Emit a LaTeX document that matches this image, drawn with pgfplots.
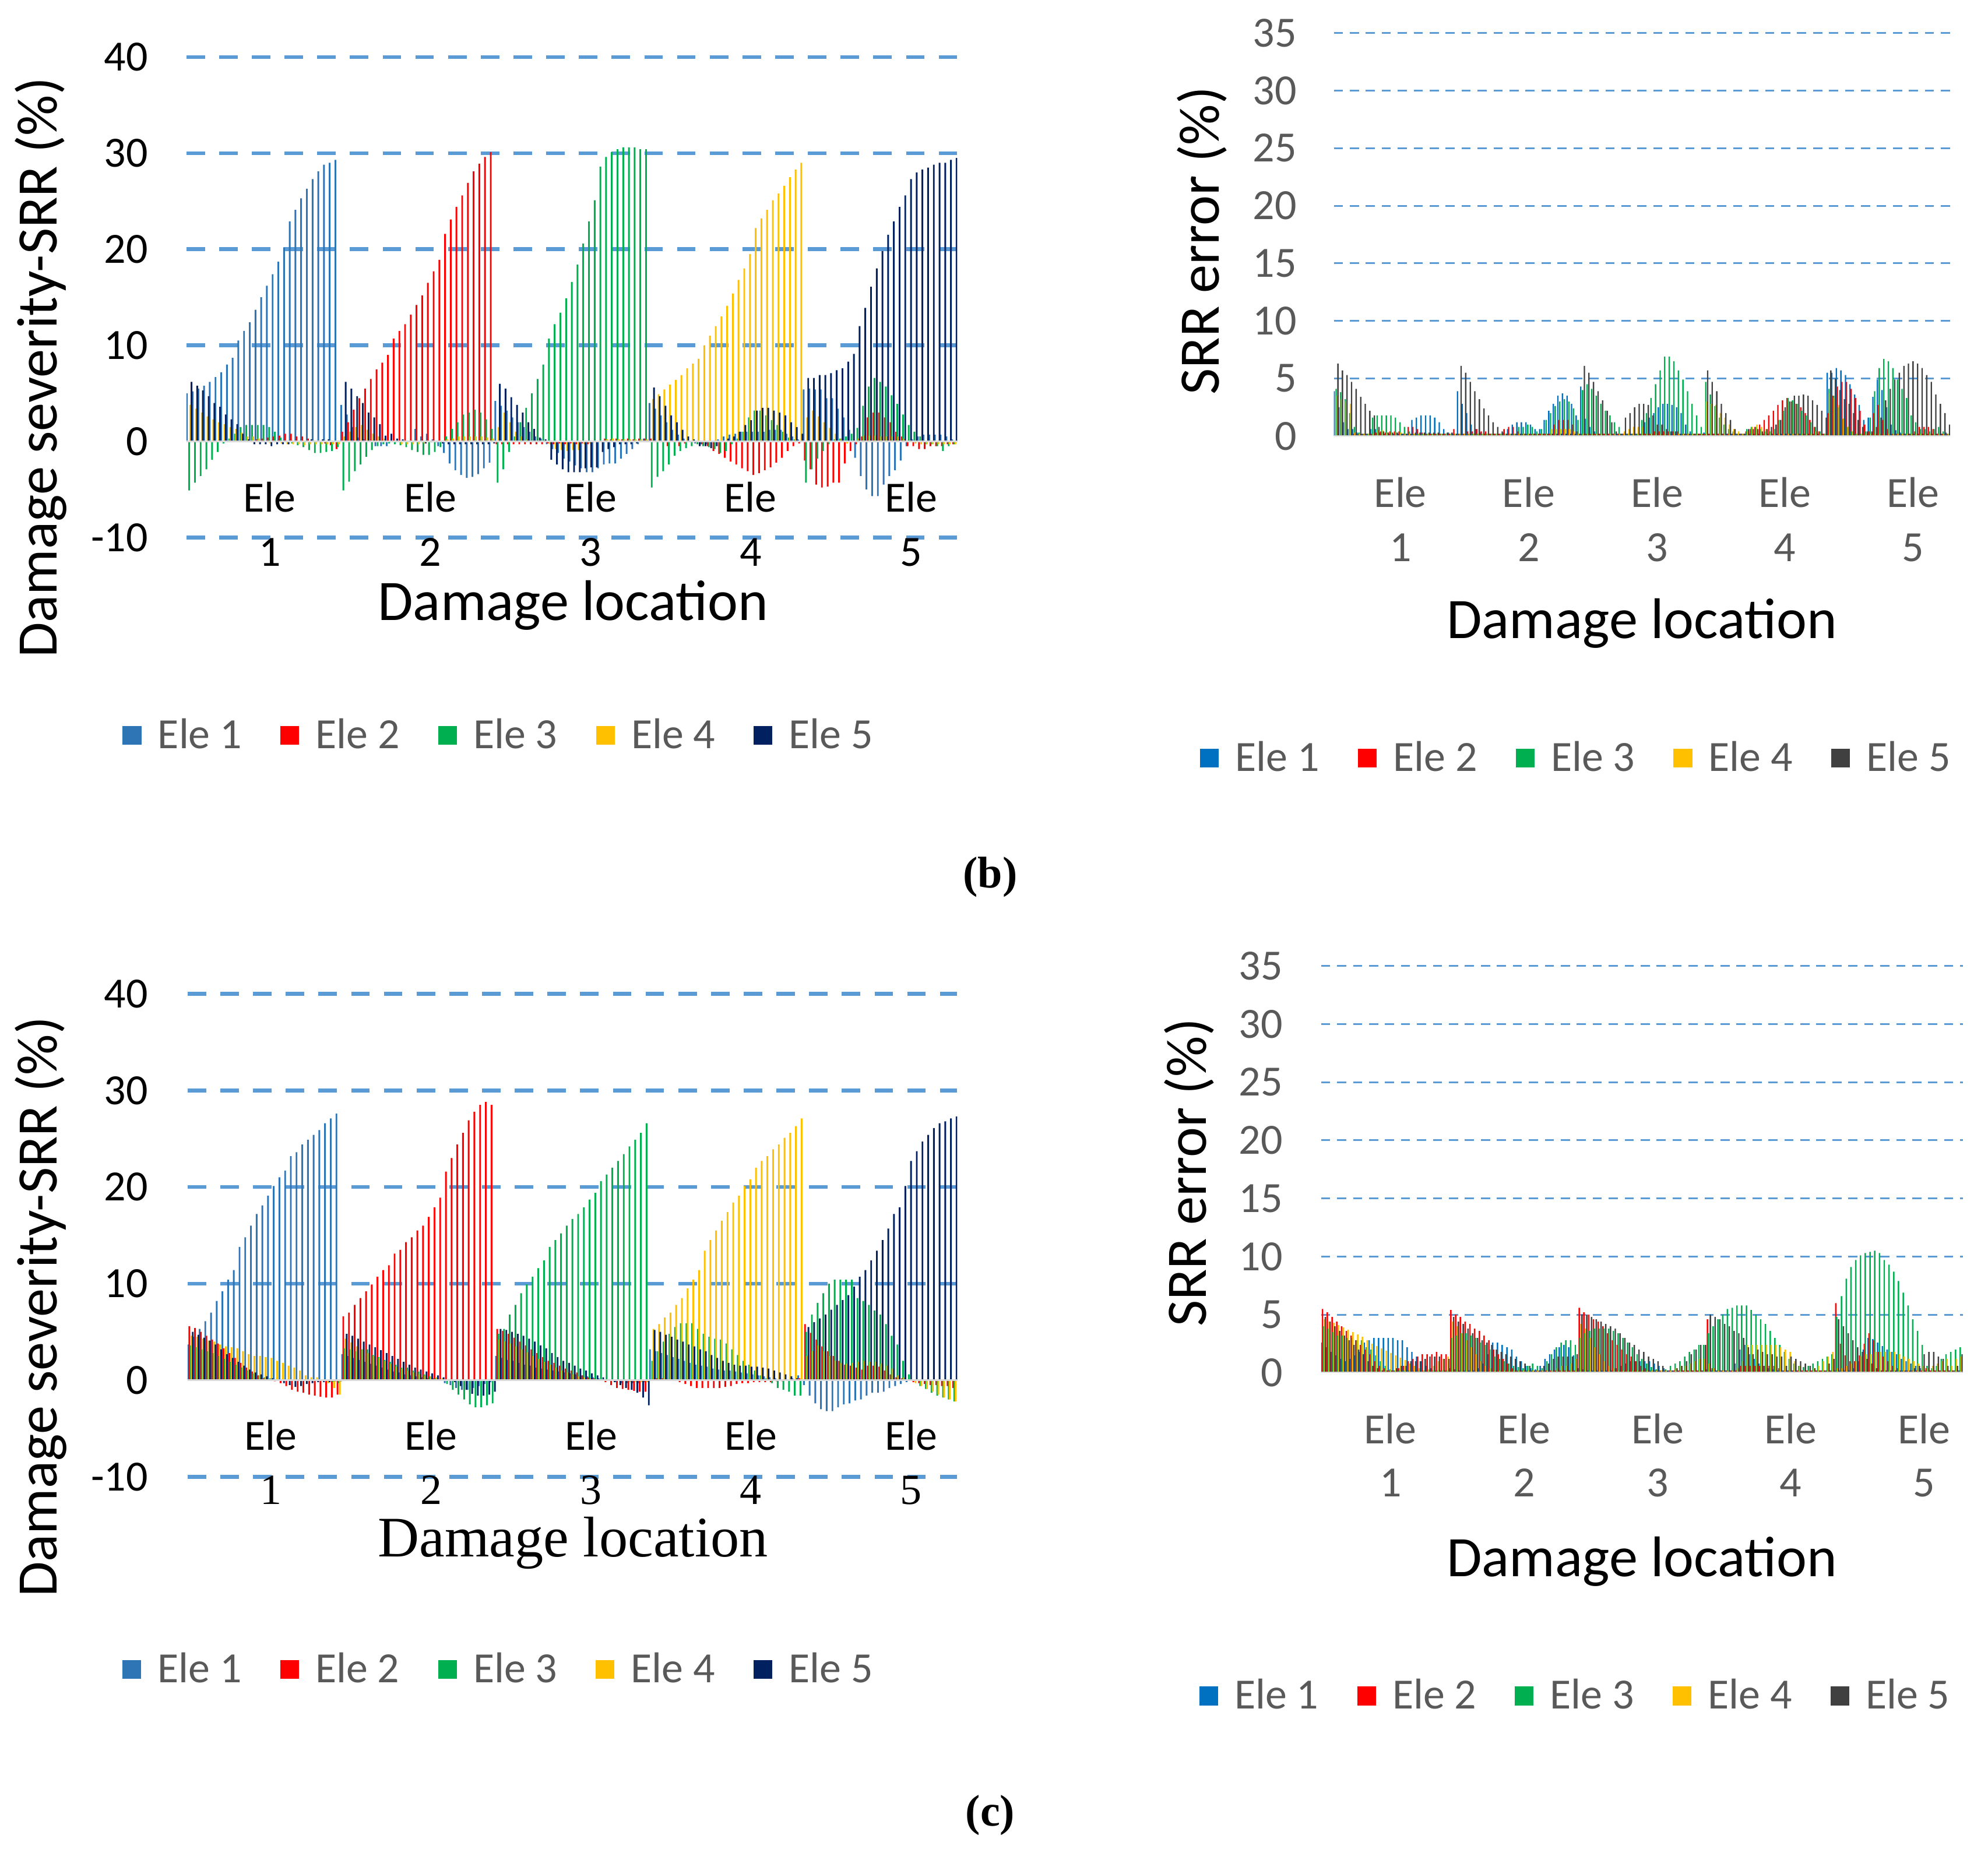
\documentclass[border=0pt]{standalone}
\usepackage{fontspec}
\setmainfont{Carlito}
\newfontfamily\tnr{Liberation Serif}
\usepackage{pgfplots}
\usepackage{pgfplotstable}
\pgfplotsset{compat=1.18}

\definecolor{c1}{HTML}{2E75B6}
\definecolor{c2}{HTML}{FF0000}
\definecolor{c3}{HTML}{00B050}
\definecolor{c4}{HTML}{FFC000}
\definecolor{c5}{HTML}{002060}
\definecolor{d1}{HTML}{0070C0}
\definecolor{d5}{HTML}{404040}
\definecolor{gridc}{HTML}{5B9BD5}
\definecolor{zeroc}{HTML}{D9D9D9}
\definecolor{legc}{HTML}{595959}

\newcommand\tickfont{\fontsize{17}{21}\selectfont}
\newcommand\labfont{\fontsize{22.6}{27}\selectfont}
\newcommand\bfont{\fontsize{17.5}{21}\selectfont\tnr\bfseries}

% ---------------- (b) left: identified severity ----------------
\pgfplotstableread[row sep=\\]{y\\
5.0\\5.2\\5.5\\5.8\\6.2\\6.7\\7.2\\8.0\\8.7\\10.5\\11.5\\12.4\\13.7\\15.0\\16.2\\17.4\\18.7\\20.2\\22.9\\24.1\\25.3\\26.3\\27.3\\28.1\\28.8\\29.0\\29.3\\
3.8\\2.8\\1.5\\0.4\\0.2\\0\\-0.5\\-0.5\\-0.5\\0\\0\\0\\0\\1.3\\0.5\\0.8\\0.2\\-0.5\\-1.2\\-2.3\\-3.0\\-3.5\\-3.8\\-3.7\\-3.4\\-2.8\\-2.2\\
4.2\\3.7\\3.2\\2.5\\2.0\\1.5\\1.0\\0.5\\0.3\\-0.3\\-0.8\\-1.2\\-1.8\\-2.1\\-2.5\\-2.8\\-3.2\\-3.2\\-2.8\\-2.4\\-2.3\\-2.3\\-1.8\\-1.3\\-0.8\\-0.3\\0.3\\
4.0\\3.4\\2.7\\2.0\\1.2\\0.7\\0.3\\0\\-0.2\\-0.3\\-0.3\\0\\0.2\\0.5\\0.7\\0.8\\1.0\\1.0\\1.0\\1.0\\1.0\\1.2\\1.2\\1.2\\0.8\\0.5\\0.2\\
5.4\\5.5\\5.4\\5.4\\4.5\\4.5\\3.4\\2.5\\1.2\\-1.7\\-3.6\\-5.0\\-5.7\\-5.7\\-4.5\\-3.6\\-3.0\\-2.0\\-0.5\\0.2\\0.5\\0.7\\0.7\\0.7\\0.7\\0.5\\0.2\\
}\TLa
\pgfplotstableread[row sep=\\]{y\\
0\\0\\0\\0\\0\\0\\0\\0\\0\\0\\0\\0\\0.2\\0.3\\0.4\\0.5\\0.6\\0.8\\0.8\\0.5\\0.5\\0.3\\0.1\\0\\-0.2\\-0.4\\-0.8\\
1.0\\2.0\\3.3\\4.5\\5.5\\6.5\\7.5\\8.2\\9.0\\10.7\\11.5\\12.2\\13.2\\14.2\\15.2\\16.5\\17.7\\18.9\\21.6\\23.1\\24.4\\25.6\\26.9\\28.1\\28.9\\29.6\\30.1\\
-0.3\\-0.3\\-0.3\\-0.3\\-0.3\\-0.3\\-0.3\\-0.3\\-0.3\\-0.2\\-0.3\\-0.2\\-0.3\\-0.2\\-0.3\\-0.2\\-0.3\\-0.1\\0\\0.3\\0.2\\0.3\\0.2\\0.3\\0.2\\0.3\\0.3\\
0.3\\0\\0\\-0.5\\0\\-0.5\\-0.2\\0\\0\\-0.3\\-0.5\\-1.0\\-1.3\\-1.7\\-2.1\\-2.4\\-2.8\\-3.1\\-3.5\\-3.3\\-3.0\\-2.7\\-2.2\\-1.7\\-1.0\\-0.5\\-0.2\\
-2.0\\-2.9\\-4.5\\-4.8\\-4.7\\-4.3\\-4.3\\-2.3\\-1.0\\-0.3\\0.5\\2.5\\3.0\\3.0\\2.5\\2.0\\1.0\\0.5\\-0.5\\-0.5\\-0.8\\-0.8\\-0.5\\-0.5\\-0.5\\-0.3\\-0.3\\
}\TLb
\pgfplotstableread[row sep=\\]{y\\
-5.1\\-4.3\\-3.6\\-2.9\\-1.9\\-1.1\\-0.2\\0.3\\0.8\\1.5\\1.7\\1.7\\1.7\\1.7\\1.5\\1.0\\0.4\\0\\-0.2\\-0.4\\-0.6\\-0.9\\-1.2\\-1.2\\-1.1\\-1.0\\-0.6\\
-5.1\\-4.2\\-3.1\\-2.4\\-1.6\\-0.9\\-0.5\\-0.3\\-0.2\\-0.3\\-0.4\\-0.6\\-0.9\\-1.1\\-1.4\\-1.4\\-1.1\\-0.6\\0.5\\1.3\\2.0\\2.8\\3.0\\3.3\\3.0\\2.3\\1.3\\
-4.3\\-2.9\\-1.1\\0.5\\2.0\\3.5\\5.0\\6.5\\8.0\\10.7\\12.2\\13.4\\14.9\\16.6\\18.4\\20.6\\22.9\\25.1\\28.6\\29.6\\30.1\\30.4\\30.6\\30.6\\30.6\\30.4\\30.4\\
-4.8\\-3.7\\-3.1\\-2.4\\-1.5\\-1.0\\-0.7\\-0.5\\-0.3\\-0.5\\-0.6\\-0.8\\-1.2\\-1.0\\-0.3\\0.3\\1.0\\2.5\\3.2\\3.2\\2.7\\2.2\\1.7\\1.0\\0.4\\0.2\\0\\
-4.3\\-2.9\\-1.8\\-1.0\\-0.3\\0.2\\0.3\\0.5\\0.8\\1.4\\3.7\\5.7\\6.6\\6.2\\5.7\\4.8\\3.9\\2.8\\1.7\\1.0\\0.5\\-0.3\\-0.3\\-0.5\\-1.0\\-0.5\\-0.3\\
}\TLc
\pgfplotstableread[row sep=\\]{y\\
3.8\\3.4\\3.0\\2.6\\2.3\\2.0\\1.8\\1.5\\1.3\\0.9\\0.5\\0.5\\0.3\\0\\-0.2\\0\\-0.2\\-0.3\\-0.3\\-0.3\\-0.4\\-0.3\\-0.3\\-0.3\\-0.3\\-0.3\\-0.3\\
0.5\\1.0\\1.5\\1.7\\1.2\\0.8\\0.5\\0.3\\0.1\\0\\-0.3\\-0.3\\-0.3\\-0.3\\-0.2\\0\\0\\0\\0.2\\0.3\\0.5\\0.5\\0.5\\0.5\\0.5\\0.4\\0.3\\
1.5\\3.0\\2.0\\1.0\\0.5\\0.2\\0\\0\\0\\-0.3\\-0.8\\-0.9\\-1.0\\-0.9\\-0.9\\-0.3\\-0.2\\0\\0\\0.2\\0.3\\0.2\\0.2\\0.2\\0.2\\0.2\\0.2\\
4.4\\4.9\\5.4\\5.9\\6.4\\6.9\\7.6\\8.1\\8.6\\10.0\\11.0\\12.0\\13.0\\14.1\\15.4\\16.8\\18.0\\19.5\\22.2\\23.2\\24.1\\25.1\\25.8\\26.6\\27.5\\28.3\\29.0\\
2.5\\3.2\\2.6\\2.0\\1.4\\0.8\\0.3\\-0.2\\0\\0.3\\0.6\\0.6\\0.6\\0.5\\0.5\\0.5\\0.5\\0.3\\0\\-0.2\\-0.3\\-0.3\\-0.3\\-0.3\\-0.3\\-0.3\\-0.3\\
}\TLd
\pgfplotstableread[row sep=\\]{y\\
6.2\\5.8\\5.3\\4.7\\4.0\\3.6\\2.8\\2.3\\1.8\\0.8\\0.2\\-0.3\\-0.3\\-0.3\\-0.5\\-0.3\\-0.3\\-0.3\\0\\0\\0\\0.2\\0\\0.2\\0.2\\0\\0\\
6.2\\5.5\\4.7\\4.0\\3.0\\2.5\\1.8\\0.6\\0.8\\0.3\\0.2\\0\\0\\0\\-0.2\\-0.1\\-0.1\\-0.2\\-0.3\\-0.3\\-0.3\\-0.3\\-0.3\\-0.3\\-0.3\\-0.3\\-0.2\\
6.0\\5.5\\4.6\\3.8\\3.0\\2.0\\1.3\\0.4\\0.2\\-1.9\\-2.4\\-2.9\\-3.2\\-3.2\\-3.2\\-2.8\\-2.7\\-2.7\\-1.1\\-0.8\\-0.6\\-0.3\\-0.3\\-0.3\\-0.2\\0\\0\\
5.6\\4.7\\3.7\\2.7\\2.0\\1.2\\0.5\\0.2\\-0.5\\-0.5\\-0.7\\-0.5\\0\\0.3\\0.5\\1.0\\1.7\\2.2\\3.2\\3.5\\3.5\\3.2\\3.0\\2.7\\2.0\\1.5\\0.8\\
6.6\\6.6\\6.9\\6.9\\7.1\\7.4\\7.6\\8.3\\9.1\\12.0\\13.9\\16.1\\18.0\\19.8\\21.5\\22.9\\24.4\\25.6\\27.3\\28.0\\28.3\\28.5\\28.8\\29.0\\29.0\\29.3\\29.5\\
}\TLe

% ---------------- (b) right: SRR error ----------------
\pgfplotstableread[row sep=\\]{y\\
3.9\\2.5\\1.2\\0.6\\0.6\\0.3\\0.2\\0.2\\0.6\\0.6\\0.3\\0.2\\0.2\\0.2\\0.2\\0.2\\0.2\\1.4\\1.6\\1.8\\1.8\\1.8\\1.6\\1.2\\0.6\\0.3\\0.2\\
3.9\\2.8\\2.0\\1.0\\0.6\\0.3\\0.2\\0.2\\0.2\\0.2\\0.3\\0.6\\1.0\\1.2\\1.2\\1.2\\1.0\\0.6\\0.6\\1.4\\2.2\\2.8\\3.5\\3.7\\3.5\\2.8\\1.8\\
4.3\\1.5\\0.8\\0.4\\0.2\\0.2\\0.2\\0.2\\0.2\\0.2\\0.2\\0.2\\0.2\\0.2\\1.2\\1.6\\2.0\\2.5\\2.8\\2.8\\2.7\\2.5\\2.0\\1.0\\0.4\\0.2\\0.2\\
0.3\\0.2\\0.2\\0.2\\0.2\\0.2\\0.2\\0.2\\0.2\\0.2\\0.2\\0.2\\0.2\\0.2\\0.2\\0.2\\0.2\\0.2\\0.2\\0.2\\0.2\\0.2\\0.2\\0.2\\0.2\\0.2\\0.2\\
5.5\\5.5\\5.9\\5.7\\5.3\\4.5\\3.6\\2.7\\1.4\\1.6\\3.4\\4.9\\4.0\\2.5\\1.0\\0.5\\0.3\\0.2\\0.2\\0.2\\0.2\\0.2\\0.2\\0.2\\0.2\\0.2\\0.3\\
}\TRa
\pgfplotstableread[row sep=\\]{y\\
0\\0\\0\\0\\0.2\\0.2\\0.2\\0.2\\0.2\\0.3\\0.4\\0.3\\0.4\\0.4\\0.4\\0.2\\0.8\\0.8\\0.6\\0.3\\0.2\\0.2\\0.2\\0.2\\0.2\\0.2\\0.6\\
0.2\\0.2\\0.4\\0.4\\0.6\\0.4\\0.4\\0.2\\0.2\\0.2\\0.6\\0.8\\0.8\\0.4\\0.2\\0.2\\0.2\\0.2\\0.2\\0.2\\0.2\\1.0\\1.4\\1.4\\1.4\\1.0\\0.4\\
0.2\\0.2\\0.2\\0.2\\0.2\\0.2\\0.2\\0.2\\0.2\\0.2\\0.2\\0.2\\0.2\\0.2\\0.2\\0.2\\0.4\\0.4\\0.4\\0.4\\0.4\\0.4\\0.2\\0.2\\0.2\\0.2\\0.2\\
0.2\\0.2\\0.2\\0.2\\0.2\\0.2\\0.2\\0.2\\0.2\\0.4\\0.6\\0.8\\1.0\\1.4\\1.8\\2.2\\2.7\\3.1\\3.3\\3.0\\2.8\\2.5\\2.0\\1.4\\0.8\\0.4\\0.2\\
2.0\\3.5\\4.3\\4.7\\4.7\\4.1\\3.3\\2.2\\1.0\\0.4\\2.0\\2.7\\1.4\\0.6\\0.2\\0.2\\0.2\\0.2\\0.2\\0.4\\0.8\\0.8\\0.8\\0.6\\0.2\\0.2\\0.2\\
}\TRb
\pgfplotstableread[row sep=\\]{y\\
4.1\\3.8\\3.2\\2.0\\0.8\\0.3\\0.2\\0.2\\1.6\\1.8\\1.8\\1.8\\1.8\\1.6\\1.2\\0.8\\0.4\\0.2\\0.2\\0.2\\0.2\\0.2\\0.2\\0.2\\0.2\\0.2\\0.2\\
0.2\\0.2\\0.2\\0.2\\0.2\\0.2\\0.2\\0.2\\0.2\\0.2\\0.2\\0.2\\0.2\\0.8\\0.8\\1.0\\0.8\\0.4\\0.6\\1.4\\2.0\\2.6\\3.0\\3.2\\3.0\\2.4\\1.4\\
4.0\\4.5\\4.1\\3.5\\2.8\\2.2\\1.8\\1.2\\0.8\\0.2\\0.2\\0.2\\0.2\\1.4\\2.0\\3.3\\4.5\\5.7\\6.9\\6.9\\6.5\\5.7\\4.9\\3.9\\2.8\\1.8\\0.8\\
4.7\\3.6\\2.6\\1.6\\1.0\\0.6\\0.4\\0.2\\0.2\\0.6\\0.8\\0.8\\0.6\\0.4\\0.4\\0.6\\1.4\\2.2\\3.3\\3.1\\2.8\\2.2\\1.8\\1.2\\0.8\\0.4\\0.2\\
4.1\\3.5\\2.5\\1.5\\0.8\\0.4\\0.2\\0.2\\0.4\\1.6\\3.9\\5.9\\6.7\\6.5\\5.9\\4.9\\4.1\\3.3\\1.8\\1.2\\0.6\\0.6\\0.4\\0.6\\0.8\\0.4\\0.2\\
}\TRc
\pgfplotstableread[row sep=\\]{y\\
3.5\\3.2\\3.0\\2.8\\0.3\\0.2\\0.2\\0.2\\0.2\\0.5\\0.5\\0.3\\0.3\\0.3\\0.3\\0.2\\0.2\\0.2\\0.2\\0.2\\0.2\\0.2\\0.2\\0.2\\0.2\\0.2\\0.2\\
0.2\\0.2\\0.2\\0.2\\0.2\\0.2\\0.2\\0.2\\0.2\\0.2\\0.2\\0.2\\0.2\\0.2\\0.2\\0.2\\0.2\\0.2\\0.2\\0.2\\0.6\\0.6\\0.6\\0.6\\0.6\\0.4\\0.2\\
0.2\\0.2\\0.2\\0.2\\0.2\\0.2\\0.2\\0.2\\0.2\\0.4\\0.6\\0.8\\0.8\\0.8\\0.2\\0.2\\0.2\\0.2\\0.2\\0.2\\0.2\\0.2\\0.2\\0.2\\0.2\\0.2\\0.2\\
3.0\\2.8\\2.7\\2.0\\1.6\\1.0\\0.6\\0.4\\0.2\\0.4\\0.8\\1.0\\0.8\\0.6\\0.4\\0.2\\0.2\\0.2\\0.2\\0.2\\0.2\\0.2\\0.2\\0.2\\0.4\\0.2\\0.2\\
3.7\\3.3\\2.7\\1.5\\0.8\\0.4\\0.2\\0.2\\0.2\\0.2\\0.2\\0.2\\0.2\\0.2\\0.2\\0.2\\0.2\\0.2\\0.2\\0.2\\0.2\\0.2\\0.2\\0.2\\0.2\\0.2\\0.2\\
}\TRd
\pgfplotstableread[row sep=\\]{y\\
6.3\\5.7\\5.3\\4.7\\4.1\\3.4\\2.8\\2.2\\1.8\\0.8\\0.4\\0.3\\0.3\\0.3\\0.2\\0.2\\0.2\\0.3\\0.3\\0.3\\0.3\\0.3\\0.3\\0.2\\0.3\\0.3\\0.2\\
6.1\\5.5\\4.7\\3.9\\3.2\\2.4\\1.8\\1.2\\0.8\\0.4\\0.2\\0.2\\0.2\\0.2\\0.2\\0.2\\0.2\\0.2\\0.2\\0.2\\0.2\\0.2\\0.2\\0.2\\0.2\\0.2\\0.2\\
6.1\\5.5\\4.7\\3.9\\3.1\\2.2\\1.2\\0.4\\0.2\\1.6\\2.0\\2.5\\2.8\\2.8\\2.7\\1.8\\1.0\\1.0\\0.6\\0.4\\0.4\\0.2\\0.2\\0.2\\0.2\\0.2\\0.2\\
5.7\\4.7\\3.9\\2.8\\2.0\\1.4\\0.6\\0.2\\0.2\\0.6\\0.6\\0.6\\0.4\\0.6\\0.8\\1.0\\1.4\\2.5\\3.0\\3.5\\3.5\\3.6\\3.5\\3.1\\2.7\\2.2\\1.6\\
5.7\\5.0\\4.0\\3.2\\2.8\\2.0\\1.4\\0.8\\0.4\\0.4\\0.8\\1.6\\3.1\\4.1\\4.9\\5.5\\6.1\\6.3\\6.5\\6.3\\5.9\\5.3\\4.7\\3.6\\2.8\\2.0\\1.0\\
}\TRe

% ---------------- (c) left: identified severity ----------------
\pgfplotstableread[row sep=\\]{y\\
3.7\\4.5\\5.3\\6.1\\7.0\\8.2\\9.2\\10.4\\11.4\\13.8\\14.8\\16.0\\17.2\\18.1\\19.1\\20.1\\21.0\\21.7\\23.2\\23.6\\24.4\\24.9\\25.4\\25.9\\26.6\\27.1\\27.6\\
2.7\\2.5\\2.3\\2.1\\1.9\\1.7\\1.5\\1.3\\1.1\\0.9\\0.8\\0.6\\0.5\\0.4\\0.3\\0.2\\0.2\\0.1\\-0.3\\-0.5\\-0.8\\-1.0\\-1.0\\-0.8\\-0.6\\-0.4\\-0.2\\
2.5\\2.3\\2.1\\2.0\\1.8\\1.6\\1.5\\1.3\\1.2\\1.1\\1.0\\0.9\\0.8\\0.7\\0.6\\0.5\\0.4\\0.3\\0.2\\0.1\\0\\-0.2\\-0.3\\-0.3\\-0.3\\-0.3\\-0.2\\
3.2\\3.0\\2.8\\2.6\\2.4\\2.2\\2.0\\1.8\\1.6\\1.5\\1.4\\1.2\\1.1\\1.0\\1.0\\0.9\\0.8\\0.7\\0.6\\0.5\\0.4\\0.3\\0.2\\0.1\\0\\0.2\\0.5\\
-0.5\\-1.6\\-2.4\\-3.0\\-3.2\\-3.2\\-2.8\\-2.5\\-2.4\\-2.1\\-2.0\\-1.6\\-1.3\\-1.3\\-1.2\\-0.8\\-0.6\\-0.4\\-0.2\\0\\0\\0\\0\\0\\0\\0\\0\\
}\BLa
\pgfplotstableread[row sep=\\]{y\\
5.6\\5.4\\5.0\\4.6\\4.2\\3.8\\3.3\\2.8\\2.3\\1.8\\1.3\\0.9\\0.5\\0.2\\0\\-0.1\\-0.3\\-0.6\\-1.0\\-1.2\\-1.3\\-1.5\\-1.6\\-1.7\\-1.8\\-1.8\\-1.5\\
6.6\\7.0\\7.8\\8.5\\9.2\\9.9\\10.7\\11.4\\11.9\\13.1\\13.5\\14.3\\14.8\\15.5\\16.0\\16.9\\17.9\\18.9\\21.6\\23.0\\24.4\\25.6\\26.9\\27.8\\28.5\\28.8\\28.5\\
5.3\\5.1\\4.8\\4.4\\4.0\\3.6\\3.2\\2.8\\2.4\\2.0\\1.8\\1.5\\1.2\\1.0\\0.8\\0.5\\0.3\\0.2\\0\\-0.2\\-0.5\\-0.8\\-0.9\\-1.0\\-1.1\\-1.2\\-1.2\\
0\\0.2\\0.2\\0.1\\0\\-0.2\\-0.4\\-0.6\\-0.8\\-0.8\\-0.8\\-0.8\\-0.8\\-0.7\\-0.6\\-0.4\\-0.3\\-0.3\\-0.2\\-0.2\\-0.2\\-0.2\\-0.1\\-0.1\\0\\0.1\\0.2\\
5.8\\4.9\\4.2\\3.5\\3.0\\2.5\\2.0\\1.6\\1.5\\1.3\\1.1\\1.5\\1.5\\1.4\\1.0\\0.6\\0.3\\0.2\\0\\-0.2\\-0.3\\-0.4\\-0.5\\-0.5\\-0.6\\-0.6\\-0.8\\
}\BLb
\pgfplotstableread[row sep=\\]{y\\
3.6\\3.4\\3.2\\3.0\\2.8\\2.5\\2.2\\1.9\\1.6\\1.3\\1.0\\0.7\\0.5\\0.3\\0.2\\0.1\\0\\0\\0\\0\\0\\0\\0\\0\\0\\-0.2\\-0.3\\
3.3\\3.2\\3.0\\3.2\\3.2\\2.6\\2.4\\2.1\\1.9\\1.6\\1.3\\1.3\\1.0\\0.9\\0.6\\0.4\\0.2\\0\\-0.4\\-1.0\\-1.5\\-2.0\\-2.5\\-2.8\\-2.8\\-2.6\\-2.4\\
4.8\\5.3\\6.8\\7.8\\9.0\\9.9\\10.7\\11.6\\12.4\\13.8\\14.5\\15.2\\16.0\\16.7\\17.2\\17.9\\18.7\\19.4\\20.6\\21.3\\22.0\\22.7\\23.4\\24.2\\24.9\\25.6\\26.6\\
2.0\\3.0\\4.0\\4.8\\5.5\\5.9\\5.9\\5.9\\5.3\\4.8\\4.5\\4.3\\4.2\\3.8\\3.2\\2.6\\2.0\\1.6\\1.0\\0.5\\0.2\\-0.3\\-0.8\\-1.0\\-1.2\\-1.6\\-1.6\\
5.0\\6.8\\8.0\\9.0\\10.0\\10.4\\10.4\\10.4\\10.4\\8.5\\8.2\\7.8\\7.2\\6.8\\5.8\\4.6\\3.7\\2.0\\0.6\\0\\-0.6\\-0.9\\-1.3\\-1.6\\-1.8\\-2.0\\-2.2\\
}\BLc
\pgfplotstableread[row sep=\\]{y\\
4.6\\4.5\\4.3\\4.1\\4.0\\3.7\\3.5\\3.4\\3.3\\3.0\\2.7\\2.5\\2.5\\2.4\\2.3\\2.0\\1.8\\1.5\\1.3\\1.0\\0.5\\0.3\\0.3\\0\\-0.3\\-0.8\\-1.5\\
4.3\\3.9\\3.5\\3.2\\2.8\\2.5\\2.3\\2.0\\1.7\\1.4\\1.2\\1.0\\0.8\\0.6\\0.5\\0.4\\0.3\\0.2\\0.1\\0\\0\\0\\0\\0\\0\\0\\0\\
4.2\\4.0\\3.8\\3.5\\3.2\\2.9\\2.5\\2.2\\1.9\\1.6\\1.3\\1.0\\0.8\\0.6\\0.4\\0.3\\0.2\\0.1\\0\\0\\0\\0\\0\\-0.2\\-0.2\\-0.2\\-0.2\\
5.3\\5.8\\6.5\\7.0\\7.8\\8.5\\9.5\\10.4\\11.4\\13.4\\14.5\\15.5\\16.5\\17.4\\18.4\\19.1\\20.1\\20.8\\22.0\\22.7\\23.2\\23.9\\24.4\\25.1\\25.6\\26.3\\27.1\\
2.5\\3.0\\3.6\\3.0\\2.5\\2.0\\1.8\\1.7\\1.8\\1.9\\2.0\\1.9\\1.9\\1.7\\1.5\\1.2\\0.5\\0.3\\0\\-0.3\\-0.6\\-0.9\\-1.2\\-1.5\\-1.8\\-2.0\\-2.2\\
}\BLd
\pgfplotstableread[row sep=\\]{y\\
5.0\\4.7\\4.4\\4.1\\3.7\\3.2\\2.7\\2.3\\1.9\\1.5\\1.1\\0.8\\0.6\\0.4\\0.2\\0\\-0.3\\-0.5\\-0.7\\-0.6\\-0.4\\-0.3\\-0.2\\-0.2\\-0.2\\-0.1\\-0.1\\
4.8\\4.6\\4.3\\4.0\\3.7\\3.4\\3.1\\2.8\\2.5\\2.2\\1.9\\1.6\\1.3\\1.1\\0.9\\0.7\\0.5\\0.3\\0.1\\-0.2\\-0.6\\-1.0\\-1.4\\-1.6\\-1.6\\-1.5\\-1.2\\
5.3\\5.2\\5.0\\4.8\\4.6\\4.3\\4.0\\3.6\\3.3\\2.8\\2.4\\2.0\\1.8\\1.5\\1.2\\1.0\\0.7\\0.5\\0.3\\0.1\\-0.2\\-0.5\\-0.8\\-1.0\\-1.3\\-1.8\\-2.6\\
5.2\\5.0\\4.7\\4.5\\4.2\\4.0\\3.7\\3.5\\3.2\\3.0\\2.6\\2.3\\2.0\\1.8\\1.6\\1.5\\1.5\\1.4\\1.4\\1.3\\1.2\\1.0\\0.8\\0.6\\0.4\\0.2\\0\\
5.5\\6.0\\6.4\\6.8\\7.3\\7.8\\8.3\\8.8\\9.7\\10.7\\11.4\\12.4\\13.4\\14.5\\15.7\\17.2\\17.9\\20.1\\22.7\\23.7\\24.7\\25.4\\26.1\\26.6\\26.8\\27.1\\27.3\\
}\BLe

% ---------------- (c) right: SRR error ----------------
\pgfplotstableread[row sep=\\]{y\\
2.6\\2.2\\1.8\\1.5\\1.2\\1.0\\1.2\\1.5\\1.8\\2.6\\2.8\\3.0\\3.0\\3.0\\3.0\\3.0\\2.8\\2.8\\2.2\\1.8\\1.4\\1.0\\0.6\\0.4\\0.2\\0.2\\0.2\\
0.4\\0.3\\0.2\\0.2\\0.2\\0.2\\0.4\\0.8\\1.6\\2.6\\2.6\\2.4\\2.2\\2.0\\1.4\\1.0\\0.6\\0.4\\0.3\\0.6\\1.2\\1.6\\2.0\\2.2\\2.4\\2.2\\1.5\\
0.4\\0.3\\0.2\\0.2\\0.2\\0.2\\0.2\\0.2\\0.4\\0.6\\0.8\\1.0\\1.0\\1.0\\1.0\\1.0\\0.8\\0.6\\0.4\\0.2\\0.2\\0.2\\0.2\\0.2\\0.2\\0.2\\0.2\\
0.3\\0.2\\0.2\\0.2\\0.2\\0.2\\0.8\\2.0\\2.4\\1.6\\1.2\\0.8\\0.6\\0.4\\0.3\\0.2\\0.2\\0.2\\0.2\\0.2\\0.2\\0.2\\0.2\\0.2\\0.2\\0.2\\0.2\\
0.2\\0.2\\0.2\\0.2\\0.4\\1.0\\2.0\\3.0\\2.9\\2.6\\2.3\\2.0\\1.8\\1.6\\1.2\\1.0\\0.8\\0.6\\0.4\\0.2\\0.2\\0.2\\0.2\\0.2\\0.2\\0.2\\0.2\\
}\BRa
\pgfplotstableread[row sep=\\]{y\\
5.5\\5.2\\4.8\\4.4\\4.0\\3.6\\3.2\\2.8\\2.4\\2.0\\1.6\\1.0\\0.6\\0.4\\0.2\\0.2\\0.4\\0.6\\1.0\\1.2\\1.4\\1.6\\1.6\\1.6\\1.8\\1.6\\1.6\\
5.4\\5.0\\4.8\\4.4\\4.2\\3.8\\3.6\\3.2\\2.8\\2.0\\1.6\\1.2\\0.8\\0.4\\0.2\\0.2\\0.2\\0.2\\0.2\\0.2\\0.2\\0.2\\0.2\\0.2\\0.2\\0.2\\0.2\\
5.6\\5.2\\5.0\\4.6\\4.4\\4.0\\3.4\\2.8\\2.4\\2.0\\1.6\\1.4\\1.0\\0.6\\0.4\\0.2\\0.2\\0.2\\0.2\\0.2\\0.2\\0.2\\0.2\\0.2\\0.2\\0.2\\0.2\\
4.6\\0.4\\0.2\\0.2\\0.2\\0.2\\0.2\\0.6\\0.6\\0.6\\0.6\\0.6\\0.6\\0.6\\0.6\\0.4\\0.2\\0.2\\0.2\\0.2\\0.2\\0.2\\0.2\\0.2\\0.2\\0.2\\0.2\\
6.0\\2.5\\1.5\\1.0\\1.0\\1.5\\2.5\\3.4\\2.8\\1.8\\1.4\\1.0\\0.6\\0.4\\0.2\\0.2\\0.2\\0.2\\0.2\\0.4\\0.2\\0.2\\0.2\\0.2\\0.2\\0.2\\0.2\\
}\BRb
\pgfplotstableread[row sep=\\]{y\\
4.0\\3.8\\3.5\\3.2\\3.2\\3.0\\3.0\\2.8\\2.8\\2.2\\2.0\\1.5\\1.0\\0.6\\0.3\\0.2\\0.2\\0.2\\0.2\\0.2\\0.2\\0.2\\0.2\\0.2\\0.2\\0.2\\0.2\\
3.0\\3.2\\3.4\\3.4\\3.2\\3.0\\2.6\\2.4\\2.0\\1.4\\1.2\\1.0\\0.8\\0.6\\0.5\\0.4\\0.6\\0.8\\0.6\\0.4\\1.0\\1.6\\2.2\\2.6\\2.8\\2.8\\2.4\\
3.0\\3.4\\3.6\\3.8\\3.8\\3.8\\3.8\\3.6\\3.4\\3.0\\2.6\\2.2\\1.6\\1.2\\0.8\\0.5\\0.3\\0.2\\0.3\\0.6\\0.8\\1.0\\1.4\\1.8\\2.0\\2.4\\2.4\\
3.4\\4.0\\4.6\\5.0\\5.5\\5.6\\5.8\\5.8\\5.8\\5.4\\5.0\\4.6\\4.2\\3.6\\3.0\\2.4\\1.8\\1.2\\0.8\\0.6\\0.5\\0.6\\0.8\\1.0\\1.2\\1.4\\1.6\\
4.8\\6.6\\8.1\\9.1\\9.7\\10.1\\10.3\\10.4\\10.5\\10.3\\9.7\\9.3\\8.7\\7.9\\6.9\\5.8\\4.6\\3.6\\2.4\\0.6\\0.4\\0.6\\1.2\\1.6\\1.8\\2.0\\2.2\\
}\BRc
\pgfplotstableread[row sep=\\]{y\\
4.6\\4.4\\4.3\\4.1\\3.9\\3.7\\3.5\\3.3\\3.1\\2.8\\2.5\\2.3\\2.1\\1.9\\1.7\\1.5\\1.3\\1.1\\0.8\\0.6\\0.4\\0.2\\0.3\\0.6\\1.0\\1.2\\1.4\\
4.4\\4.0\\3.4\\2.8\\2.2\\1.6\\1.0\\0.6\\0.4\\0.2\\0.2\\0.2\\0.2\\0.2\\0.2\\0.2\\0.2\\0.2\\0.2\\0.2\\0.2\\0.2\\0.4\\0.6\\0.6\\0.8\\1.2\\
4.2\\3.8\\3.0\\2.2\\1.6\\1.0\\0.6\\0.4\\0.2\\0.2\\0.2\\0.2\\0.2\\0.2\\0.2\\0.2\\0.2\\0.2\\0.2\\0.2\\0.4\\0.6\\0.6\\0.8\\1.0\\1.2\\1.2\\
0.8\\0.4\\0.2\\0.2\\0.2\\0.2\\0.4\\1.0\\2.4\\2.4\\2.4\\2.4\\2.4\\2.4\\2.4\\2.2\\2.0\\1.8\\1.0\\0.6\\0.2\\0.2\\0.4\\0.6\\1.0\\1.4\\1.8\\
0.4\\0.4\\0.6\\0.8\\1.0\\1.4\\1.6\\1.6\\1.8\\1.8\\1.8\\1.8\\1.8\\1.6\\1.4\\1.2\\1.0\\0.8\\0.6\\0.4\\0.6\\0.8\\1.0\\1.2\\0.6\\1.2\\1.4\\
}\BRd
\pgfplotstableread[row sep=\\]{y\\
4.8\\4.4\\4.0\\3.6\\3.2\\2.8\\2.4\\2.0\\1.6\\1.0\\0.6\\0.4\\0.2\\0.2\\0.2\\0.4\\0.6\\0.6\\1.0\\1.0\\1.0\\1.2\\1.4\\1.4\\1.4\\1.2\\1.2\\
4.8\\4.4\\4.2\\3.8\\3.4\\3.0\\2.8\\2.6\\2.4\\2.0\\1.8\\1.6\\1.4\\1.2\\1.0\\0.8\\0.6\\0.2\\0.2\\0.6\\0.8\\1.2\\1.4\\1.4\\1.4\\1.4\\1.6\\
5.0\\5.0\\4.8\\4.6\\4.4\\4.2\\4.0\\3.8\\3.4\\3.0\\2.6\\2.4\\2.0\\1.8\\1.4\\1.2\\1.0\\0.6\\0.2\\0.2\\0.4\\0.6\\1.0\\1.6\\2.0\\2.4\\2.4\\
5.0\\4.8\\4.6\\4.2\\4.0\\3.6\\3.4\\3.0\\2.2\\1.6\\2.0\\1.8\\1.6\\1.6\\1.4\\1.4\\0.6\\1.4\\1.2\\1.0\\0.8\\0.6\\0.4\\0.2\\0.2\\0.8\\1.2\\
4.6\\4.0\\3.4\\2.8\\2.2\\1.8\\1.2\\0.8\\0.4\\0.2\\0.2\\0.2\\0.2\\0.2\\0.2\\0.2\\0.4\\0.6\\1.6\\1.8\\1.8\\1.4\\1.2\\0.6\\0.2\\0.6\\1.6\\
}\BRe

\pgfplotsset{
  panel/.style={
    scale only axis, xmin=-0.5, xmax=134.5,
    axis line style={draw=none}, tick style={draw=none}, major tick length=0pt,
    ymajorgrids,
    xtick={14.1,42.2,70.3,98.3,126.4},
    xticklabels={Ele,Ele,Ele,Ele,Ele},
    extra x ticks={14.1,42.2,70.3,98.3,126.4},
    extra y ticks={0}, extra y tick labels={0},
    extra y tick style={grid=none},
    yticklabel style={anchor=east, inner sep=0pt, font=\tickfont},
    xticklabel style={anchor=base, inner sep=0pt, font=\tickfont},
    xlabel style={font=\labfont, anchor=center},
    ylabel style={font=\labfont, anchor=center},
    legend columns=5,
    legend style={draw=none, fill=none, font=\tickfont, text=legc,
      column sep=0pt, nodes={inner sep=0pt},
      /tikz/every odd column/.append style={column sep=6.5pt},
      /tikz/every even column/.append style={column sep=15.2pt}},
  },
  leftpanel/.style={panel, ymin=-10, ymax=40,
    ytick={-10,10,20,30,40}, yticklabels={-10,10,20,30,40},
    major grid style={color=gridc, line width=1.5pt, dash pattern=on 7.3pt off 5.6pt}},
  rightpanel/.style={panel, ymin=0, ymax=35,
    ytick={5,10,15,20,25,30,35}, yticklabels={5,10,15,20,25,30,35},
    yticklabel style={text=legc}, xticklabel style={text=legc},
    major grid style={color=gridc, line width=0.7pt, dash pattern=on 3.6pt off 2.7pt}},
  sq/.style={legend image code/.code={\fill[#1] (0pt,-3.5pt) rectangle (7pt,3.5pt);}},
  bw/.style={ybar, bar width=0.3, draw=none, forget plot},
}

\begin{document}
\begin{tikzpicture}
\useasboundingbox (0,0) rectangle (784pt,-730.69pt);

% ===== (b) left =====
\begin{axis}[leftpanel, at={(73.5pt,-212pt)}, anchor=south west,
  width=304pt, height=189.5pt,
  yticklabel style={xshift=-15pt},
  xticklabel style={yshift=10pt},
  extra x tick labels={1,2,3,4,5},
  extra x tick style={tick label style={yshift=-21.35pt}},
  xlabel={Damage location}, xlabel style={at={(axis description cs:0.5016,-0.141)}},
  ylabel={Damage severity-SRR (\%)}, ylabel style={at={(axis description cs:-0.189,0.3536)}},
  legend style={at={(0.404,-0.412)}, anchor=center}]
\addlegendimage{sq=c1}\addlegendentry{Ele 1}
\addlegendimage{sq=c2}\addlegendentry{Ele 2}
\addlegendimage{sq=c3}\addlegendentry{Ele 3}
\addlegendimage{sq=c4}\addlegendentry{Ele 4}
\addlegendimage{sq=c5}\addlegendentry{Ele 5}
\addplot[bw, bar shift=-0.4, fill=c1] table[x expr=\coordindex, y=y]{\TLa};
\addplot[bw, bar shift=-0.2, fill=c2] table[x expr=\coordindex, y=y]{\TLb};
\addplot[bw, bar shift=0, fill=c3] table[x expr=\coordindex, y=y]{\TLc};
\addplot[bw, bar shift=0.2, fill=c4] table[x expr=\coordindex, y=y]{\TLd};
\addplot[bw, bar shift=0.4, fill=c5] table[x expr=\coordindex, y=y]{\TLe};
\draw[zeroc, line width=0.7pt] (axis cs:-0.5,0) -- (axis cs:134.5,0);
\end{axis}

% ===== (b) right =====
\begin{axis}[rightpanel, at={(526pt,-172pt)}, anchor=south west,
  width=243pt, height=159pt,
  yticklabel style={xshift=-14.5pt},
  xticklabel style={yshift=-28pt},
  extra x tick labels={1,2,3,4,5},
  extra x tick style={tick label style={yshift=-21.35pt}},
  xlabel={Damage location}, xlabel style={at={(axis description cs:0.5,-0.4654)}},
  ylabel={SRR error (\%)}, ylabel style={at={(axis description cs:-0.214,0.4843)}},
  legend style={at={(0.392,-0.7987)}, anchor=center}]
\addlegendimage{sq=d1}\addlegendentry{Ele 1}
\addlegendimage{sq=c2}\addlegendentry{Ele 2}
\addlegendimage{sq=c3}\addlegendentry{Ele 3}
\addlegendimage{sq=c4}\addlegendentry{Ele 4}
\addlegendimage{sq=d5}\addlegendentry{Ele 5}
\addplot[bw, bar shift=-0.4, fill=d1] table[x expr=\coordindex, y=y]{\TRa};
\addplot[bw, bar shift=-0.2, fill=c2] table[x expr=\coordindex, y=y]{\TRb};
\addplot[bw, bar shift=0, fill=c3] table[x expr=\coordindex, y=y]{\TRc};
\addplot[bw, bar shift=0.2, fill=c4] table[x expr=\coordindex, y=y]{\TRd};
\addplot[bw, bar shift=0.4, fill=d5] table[x expr=\coordindex, y=y]{\TRe};
\draw[zeroc, line width=0.7pt] (axis cs:-0.5,0) -- (axis cs:134.5,0);
\end{axis}

% ===== (c) left =====
\begin{axis}[leftpanel, at={(74pt,-582.5pt)}, anchor=south west,
  width=303.5pt, height=190.5pt,
  yticklabel style={xshift=-15.5pt},
  xticklabel style={yshift=10.5pt},
  extra x tick labels={{\tnr 1},{\tnr 2},{\tnr 3},{\tnr 4},{\tnr 5}},
  extra x tick style={tick label style={yshift=-21.25pt}},
  xlabel={\tnr Damage location}, xlabel style={at={(axis description cs:0.5008,-0.137)}},
  ylabel={Damage severity-SRR (\%)}, ylabel style={at={(axis description cs:-0.191,0.3517)}},
  legend style={at={(0.4028,-0.399)}, anchor=center}]
\addlegendimage{sq=c1}\addlegendentry{Ele 1}
\addlegendimage{sq=c2}\addlegendentry{Ele 2}
\addlegendimage{sq=c3}\addlegendentry{Ele 3}
\addlegendimage{sq=c4}\addlegendentry{Ele 4}
\addlegendimage{sq=c5}\addlegendentry{Ele 5}
\addplot[bw, bar shift=-0.4, fill=c1] table[x expr=\coordindex, y=y]{\BLa};
\addplot[bw, bar shift=-0.2, fill=c2] table[x expr=\coordindex, y=y]{\BLb};
\addplot[bw, bar shift=0, fill=c3] table[x expr=\coordindex, y=y]{\BLc};
\addplot[bw, bar shift=0.2, fill=c4] table[x expr=\coordindex, y=y]{\BLd};
\addplot[bw, bar shift=0.4, fill=c5] table[x expr=\coordindex, y=y]{\BLe};
\draw[zeroc, line width=0.7pt] (axis cs:-0.5,0) -- (axis cs:134.5,0);
\end{axis}

% ===== (c) right =====
\begin{axis}[rightpanel, at={(521pt,-541.5pt)}, anchor=south west,
  width=253pt, height=160.5pt,
  yticklabel style={xshift=-15pt},
  xticklabel style={yshift=-28pt},
  extra x tick labels={1,2,3,4,5},
  extra x tick style={tick label style={yshift=-20.9pt}},
  xlabel={Damage location}, xlabel style={at={(axis description cs:0.5,-0.4642)}},
  ylabel={SRR error (\%)}, ylabel style={at={(axis description cs:-0.2055,0.492)}},
  legend style={at={(0.395,-0.794)}, anchor=center}]
\addlegendimage{sq=d1}\addlegendentry{Ele 1}
\addlegendimage{sq=c2}\addlegendentry{Ele 2}
\addlegendimage{sq=c3}\addlegendentry{Ele 3}
\addlegendimage{sq=c4}\addlegendentry{Ele 4}
\addlegendimage{sq=d5}\addlegendentry{Ele 5}
\addplot[bw, bar shift=-0.4, fill=d1] table[x expr=\coordindex, y=y]{\BRa};
\addplot[bw, bar shift=-0.2, fill=c2] table[x expr=\coordindex, y=y]{\BRb};
\addplot[bw, bar shift=0, fill=c3] table[x expr=\coordindex, y=y]{\BRc};
\addplot[bw, bar shift=0.2, fill=c4] table[x expr=\coordindex, y=y]{\BRd};
\addplot[bw, bar shift=0.4, fill=d5] table[x expr=\coordindex, y=y]{\BRe};
\draw[zeroc, line width=0.7pt] (axis cs:-0.5,0) -- (axis cs:134.5,0);
\end{axis}

\node[font=\bfont] at (390.5pt,-346pt) {(b)};
\node[font=\bfont] at (390.5pt,-716pt) {(c)};
\end{tikzpicture}
\end{document}
